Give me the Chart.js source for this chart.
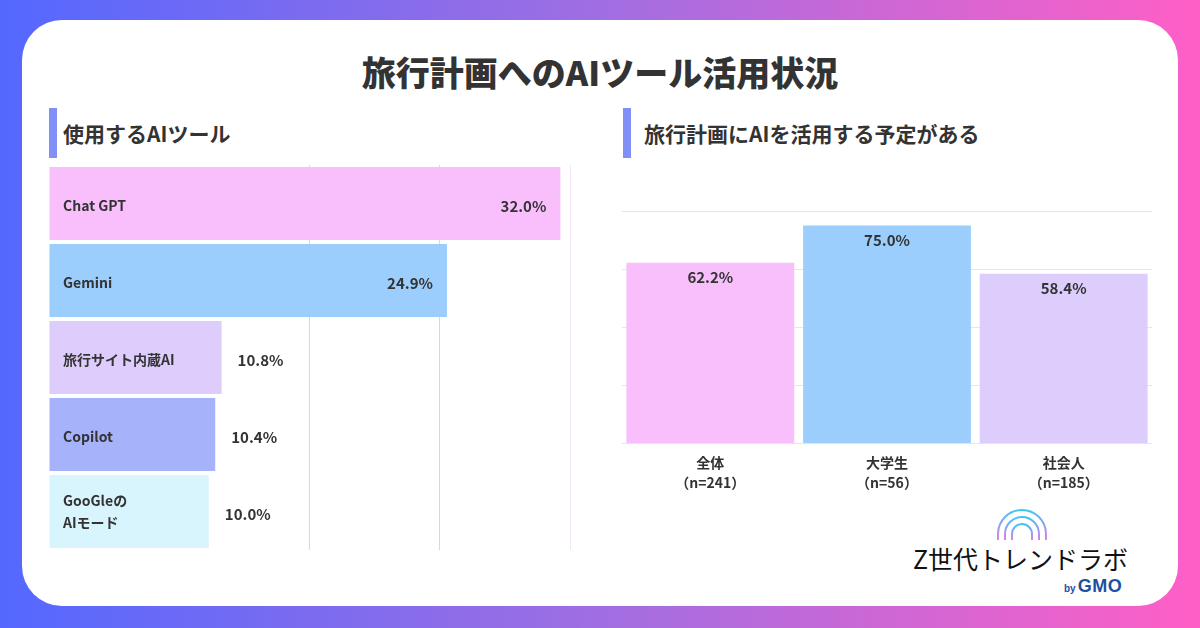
<!DOCTYPE html>
<html lang="ja">
<head>
<meta charset="utf-8">
<script src="https://cdn.jsdelivr.net/npm/chart.js@4.4.1/dist/chart.umd.min.js"></script>
<style>
  body {
    margin: 0;
    width: 1200px;
    height: 628px;
    overflow: hidden;
    background: linear-gradient(90deg, #5468ff 0%, #a06ee2 50%, #ff5fc6 100%);
    font-family: "Noto Sans CJK JP", sans-serif;
    color: #333;
    position: relative;
  }
  .card {
    position: absolute;
    left: 22px; top: 20px;
    width: 1156px; height: 586px;
    background: #fff;
    border-radius: 40px;
  }
  .title {
    position: absolute;
    left: 0; top: 49px;
    width: 1200px;
    text-align: center;
    font-size: 34px;
    font-weight: 900;
    line-height: 46px;
  }
  .sec {
    position: absolute;
    top: 108px;
    height: 50px;
    border-left: 8px solid #8090f8;
    font-size: 21px;
    font-weight: 700;
    line-height: 50px;
  }
  .wrap { position: absolute; }
  .logo {
    position: absolute;
    left: 913px; top: 541px;
    font-size: 25px;
    font-weight: 400;
    color: #111;
    line-height: 34px;
  }
  .gmo {
    position: absolute;
    left: 1064px; top: 575px;
    font-family: "Liberation Sans", sans-serif;
    color: #1d4fa3;
    line-height: 22px;
  }
  .gmo small { font-size: 10px; font-weight: 700; margin-right: 2px; }
  .gmo b { font-size: 18px; font-weight: 900; letter-spacing: 0.5px; }
</style>
</head>
<body>
<div class="card"></div>
<div class="title">旅行計画へのAIツール活用状況</div>
<div class="sec" style="left:49px; padding-left:6px">使用するAIツール</div>
<div class="sec" style="left:623px; padding-left:13px">旅行計画にAIを活用する予定がある</div>

<div class="wrap" style="left:40px; top:160px; width:540px; height:400px">
  <canvas id="toolChart"></canvas>
</div>
<div class="wrap" style="left:610px; top:200px; width:560px; height:301px">
  <canvas id="planChart"></canvas>
</div>

<svg style="position:absolute; left:990px; top:504px" width="64" height="40">
  <defs>
    <linearGradient id="arc" x1="0" y1="0" x2="0" y2="1">
      <stop offset="0" stop-color="#3cc8f2"/>
      <stop offset="1" stop-color="#e47ce6"/>
    </linearGradient>
  </defs>
  <path d="M8 36 L8 30 A24 24 0 0 1 56 30 L56 36" fill="none" stroke="url(#arc)" stroke-width="2"/>
  <path d="M15 36 L15 30 A17 17 0 0 1 49 30 L49 36" fill="none" stroke="url(#arc)" stroke-width="2"/>
  <path d="M22 36 L22 30 A10 10 0 0 1 42 30 L42 36" fill="none" stroke="url(#arc)" stroke-width="2"/>
</svg>
<div class="logo">Z世代トレンドラボ</div>
<div class="gmo"><small>by</small><b>GMO</b></div>

<script>
const fontFamily = '"Noto Sans CJK JP", sans-serif';
const textColor = '#333';

// 使用するAIツール (%)
const toolLabels = ['Chat GPT', 'Gemini', '旅行サイト内蔵AI', 'Copilot', ['GooGleの', 'AIモード']];
const toolValues = [32.0, 24.9, 10.8, 10.4, 10.0];
const toolColors = ['#f9bffc', '#9bcefc', '#ddccfc', '#a6b2fa', '#d8f4fd'];
const toolMax = 32.6;

// 旅行計画にAIを活用する予定がある (%)
const planLabels = [['全体', '（n=241）'], ['大学生', '（n=56）'], ['社会人', '（n=185）']];
const planValues = [62.2, 75.0, 58.4];
const planColors = ['#f9bffc', '#9bcefc', '#ddcdfc'];
const planMax = 80;
const planStep = 20;

// 左のグラフ: バーの中にラベル、値はバーの端
const toolLabelPlugin = {
    id: 'toolLabels',
    afterDatasetsDraw(chart) {
        const ctx = chart.ctx;
        const meta = chart.getDatasetMeta(0);
        ctx.save();
        ctx.fillStyle = textColor;
        ctx.textBaseline = 'middle';
        meta.data.forEach((bar, i) => {
            ctx.font = `700 14px ${fontFamily}`;
            ctx.textAlign = 'left';
            const lab = toolLabels[i];
            if (Array.isArray(lab)) {
                lab.forEach((line, j) => {
                    ctx.fillText(line, chart.chartArea.left + 14, bar.y + (j - (lab.length - 1) / 2) * 22);
                });
            } else {
                ctx.fillText(lab, chart.chartArea.left + 14, bar.y + 2);
            }
            ctx.font = `700 15px ${fontFamily}`;
            const txt = toolValues[i].toFixed(1) + '%';
            if (toolValues[i] > 20) {
                ctx.textAlign = 'right';
                ctx.fillText(txt, bar.x - 14, bar.y + 3);
            } else {
                ctx.textAlign = 'left';
                ctx.fillText(txt, bar.x + 16, bar.y + 3);
            }
        });
        ctx.restore();
    }
};

new Chart(document.getElementById('toolChart'), {
    type: 'bar',
    data: {
        labels: toolLabels,
        datasets: [{
            data: toolValues,
            backgroundColor: toolColors,
            borderWidth: 0,
            barPercentage: 0.95,
            categoryPercentage: 1
        }]
    },
    options: {
        indexAxis: 'y',
        responsive: true,
        maintainAspectRatio: false,
        animation: false,
        layout: { padding: { left: 9, right: 10, top: 5, bottom: 10 } },
        plugins: { legend: { display: false }, tooltip: { enabled: false } },
        scales: {
            x: {
                min: 0,
                max: toolMax,
                afterBuildTicks: axis => {
                    axis.ticks = [0, 1, 2, 3, 4].map(i => ({ value: i * toolMax / 4 }));
                },
                ticks: { display: false },
                border: { display: false },
                grid: {
                    drawTicks: false,
                    color: ctx => ctx.index < 2 ? 'rgba(0,0,0,0)' : (ctx.index === 4 ? '#f3e6f6' : '#d8d8d8')
                }
            },
            y: { display: false }
        }
    },
    plugins: [toolLabelPlugin]
});

// 右のグラフ: 値はバーの上端の内側
const planLabelPlugin = {
    id: 'planLabels',
    afterDatasetsDraw(chart) {
        const ctx = chart.ctx;
        const meta = chart.getDatasetMeta(0);
        ctx.save();
        ctx.fillStyle = textColor;
        ctx.font = `700 15px ${fontFamily}`;
        ctx.textAlign = 'center';
        ctx.textBaseline = 'middle';
        meta.data.forEach((bar, i) => {
            ctx.fillText(planValues[i].toFixed(1) + '%', bar.x, bar.y + 15);
        });
        ctx.restore();
    }
};

new Chart(document.getElementById('planChart'), {
    type: 'bar',
    data: {
        labels: planLabels,
        datasets: [{
            data: planValues,
            backgroundColor: planColors,
            borderWidth: 0,
            barPercentage: 0.95,
            categoryPercentage: 1
        }]
    },
    options: {
        responsive: true,
        maintainAspectRatio: false,
        animation: false,
        layout: { padding: { left: 12, right: 18, top: 11, bottom: 7 } },
        plugins: { legend: { display: false }, tooltip: { enabled: false } },
        scales: {
            x: {
                border: { display: false },
                grid: { display: false },
                ticks: {
                    color: textColor,
                    padding: 1,
                    font: { family: fontFamily, size: 14, weight: '700', lineHeight: 1.45 }
                }
            },
            y: {
                min: 0,
                max: planMax,
                ticks: { display: false, stepSize: planStep },
                border: { display: false },
                grid: { drawTicks: false, color: '#e6e6e6' }
            }
        }
    },
    plugins: [planLabelPlugin]
});
</script>
</body>
</html>
